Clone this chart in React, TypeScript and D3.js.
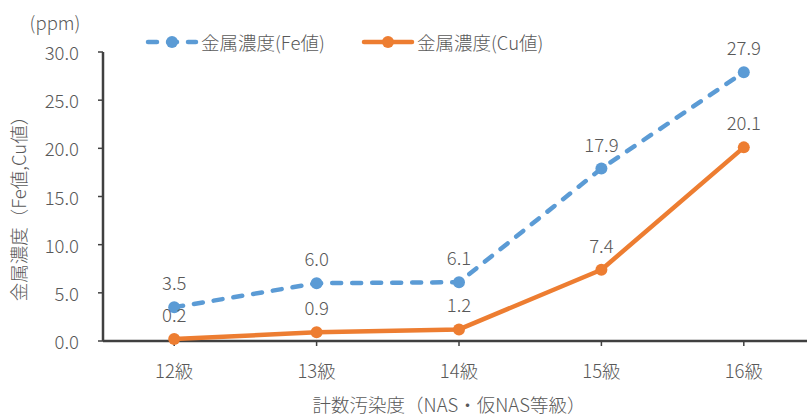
import React from "react";
import * as d3 from "d3";

const categories = ["12級", "13級", "14級", "15級", "16級"];
const feValues = [3.5, 6.0, 6.1, 17.9, 27.9];
const cuValues = [0.2, 0.9, 1.2, 7.4, 20.1];
const yTicks = [0, 5, 10, 15, 20, 25, 30];
const seriesNames = ["金属濃度(Fe値)", "金属濃度(Cu値)"];

const W = 807;
const H = 417;
const FONT = "'Noto Sans CJK JP', 'Noto Sans', sans-serif";
const TEXT = "#595959";
const FE = "#5B9BD5";
const CU = "#ED7D31";
const FS = 18.5;
const FW = 300;

export default function App() {
  const x = d3.scaleBand<string>().domain(categories).range([103, 815]);
  const y = d3.scaleLinear().domain([0, 30]).range([341, 52]);
  const cx = (c: string) => (x(c) as number) + x.bandwidth() / 2;
  const line = d3
    .line<number>()
    .x((_, i) => cx(categories[i]))
    .y((d) => y(d));

  const series = [
    { name: seriesNames[0], values: feValues, color: FE, dash: "9 11" },
    { name: seriesNames[1], values: cuValues, color: CU, dash: undefined },
  ];

  return (
    <svg
      width={W}
      height={H}
      style={{ position: "absolute", left: 0, top: 0, background: "#fff" }}
      fontFamily={FONT}
      fontWeight={FW}
    >
      {/* y axis */}
      <line x1={103} x2={103} y1={y(30)} y2={y(0)} stroke="#404040" strokeWidth={2.5} />
      {yTicks.map((t) => (
        <g key={t}>
          <line x1={98} x2={103} y1={y(t)} y2={y(t)} stroke="#404040" strokeWidth={1.5} />
          <text
            x={79}
            y={y(t)}
            textAnchor="end"
            dominantBaseline="central"
            fontSize={FS}
            fill={TEXT}
          >
            {t.toFixed(1)}
          </text>
        </g>
      ))}
      {/* x axis */}
      <line x1={103} x2={W} y1={y(0)} y2={y(0)} stroke="#404040" strokeWidth={2.5} />
      {categories.map((c) => (
        <g key={c}>
          <line x1={cx(c)} x2={cx(c)} y1={y(0)} y2={y(0) + 5} stroke="#404040" strokeWidth={1.5} />
          <text
            x={cx(c)}
            y={370}
            textAnchor="middle"
            dominantBaseline="central"
            fontSize={FS}
            fill={TEXT}
          >
            {c}
          </text>
        </g>
      ))}
      {/* titles */}
      <text x={55} y={22} textAnchor="middle" dominantBaseline="central" fontSize={FS} fill={TEXT}>
        (ppm)
      </text>
      <text
        transform={`translate(18,${204}) rotate(-90)`}
        textAnchor="middle"
        dominantBaseline="central"
        fontSize={FS}
        fill={TEXT}
      >
        金属濃度（Fe値,Cu値）
      </text>
      <text x={449} y={404} textAnchor="middle" dominantBaseline="central" fontSize={FS} fill={TEXT}>
        計数汚染度（NAS・仮NAS等級）
      </text>
      {/* series */}
      {series.map((s) => (
        <g key={s.name}>
          <path
            d={line(s.values) || ""}
            fill="none"
            stroke={s.color}
            strokeWidth={4.5}
            strokeDasharray={s.dash}
            strokeLinecap="round"
            strokeLinejoin="round"
          />
          {s.values.map((v, i) => (
            <g key={i}>
              <circle cx={cx(categories[i])} cy={y(v)} r={6} fill={s.color} />
              <text
                x={cx(categories[i])}
                y={y(v) - 25}
                textAnchor="middle"
                dominantBaseline="central"
                fontSize={FS}
                fill={TEXT}
              >
                {v.toFixed(1)}
              </text>
            </g>
          ))}
        </g>
      ))}
      {/* legend */}
      {series.map((s, i) => {
        const lx = i === 0 ? 148 : 364;
        const ly = 42;
        return (
          <g key={"lg" + i}>
            <line
              x1={lx}
              x2={lx + 48}
              y1={ly}
              y2={ly}
              stroke={s.color}
              strokeWidth={4.5}
              strokeDasharray={s.dash ? "9 11" : undefined}
              strokeLinecap="round"
            />
            <circle cx={lx + 24} cy={ly} r={6} fill={s.color} />
            <text x={lx + 53} y={ly} dominantBaseline="central" fontSize={FS} fill={TEXT}>
              {s.name}
            </text>
          </g>
        );
      })}
    </svg>
  );
}
